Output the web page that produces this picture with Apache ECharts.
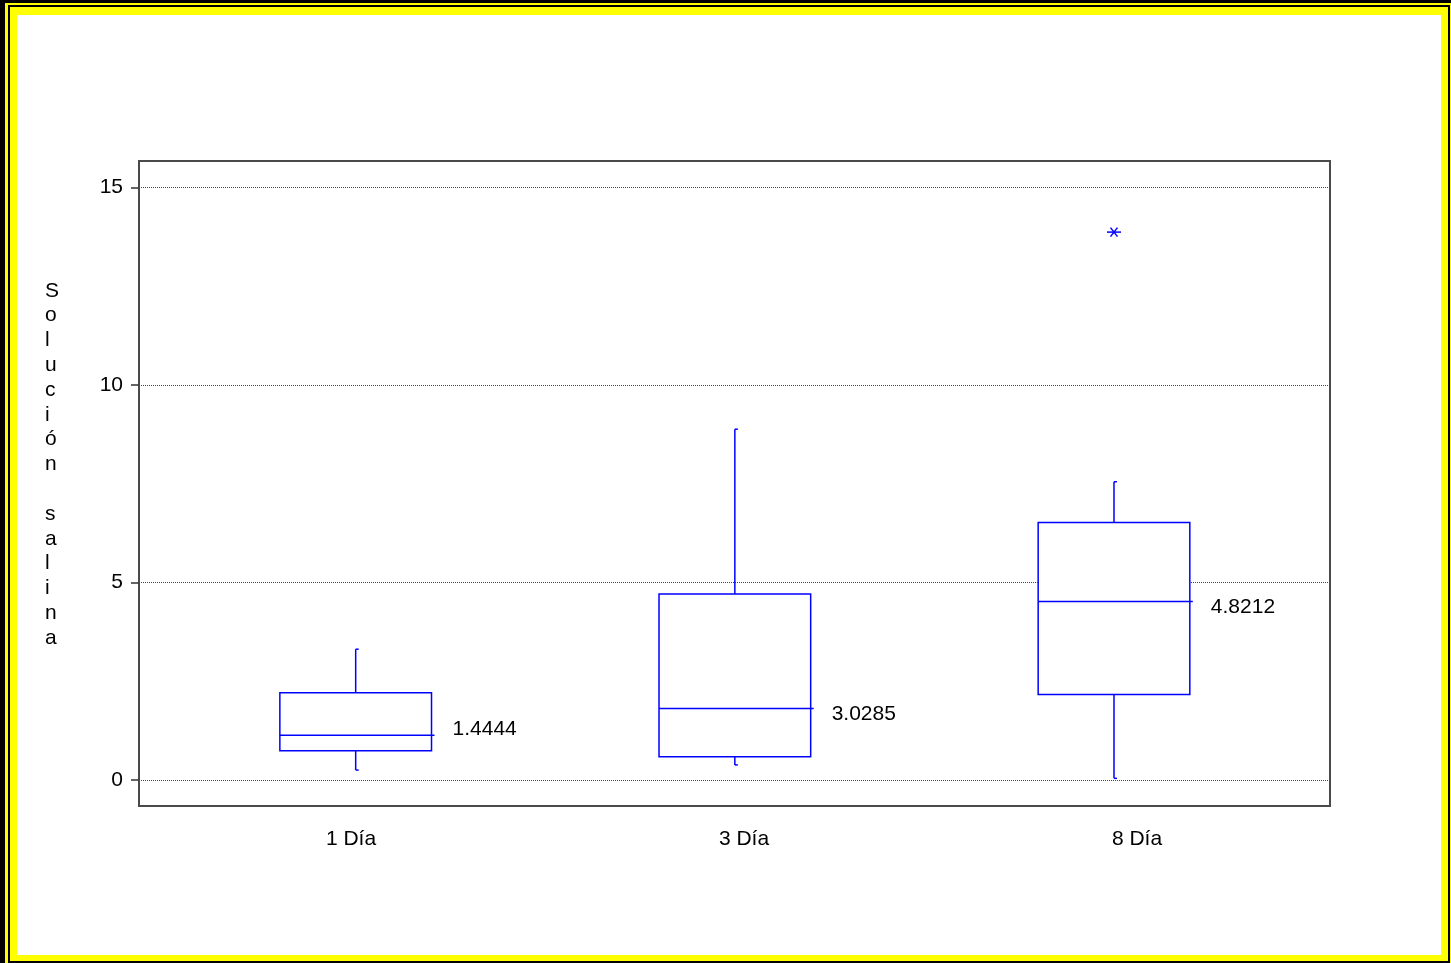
<!DOCTYPE html>
<html>
<head>
<meta charset="utf-8">
<script src="https://cdn.jsdelivr.net/npm/echarts@6/dist/echarts.min.js"></script>
<style>
  html, body { margin: 0; padding: 0; width: 1451px; height: 963px; overflow: hidden; background: #000; }
  #edge  { position: absolute; left: 5px; top: 3px; width: 1446px; height: 960px; background: #ffff00; }
  #rule  { position: absolute; left: 8px; top: 5px; width: 1438px; height: 954px; border: 2px solid #000; background: #ffff00; }
  #sheet { position: absolute; left: 17px; top: 15px; width: 1424px; height: 940px; background: #fff; }
  #chart { position: absolute; left: 0; top: 0; width: 1451px; height: 963px; }
</style>
</head>
<body>
<div id="edge"></div>
<div id="rule"></div>
<div id="sheet"></div>
<div id="chart"></div>
<script>
// Groups and box-plot statistics
const categories  = ['1 Día', '3 Día', '8 Día'];
const positions   = [1, 2, 3];
const whiskerLow  = [0.25, 0.38, 0.04];
const q1          = [0.74, 0.59, 2.16];
const median      = [1.13, 1.81, 4.52];
const q3          = [2.21, 4.71, 6.52];
const whiskerHigh = [3.31, 8.88, 7.55];
const means       = [1.4444, 3.0285, 4.8212];
const outliers    = [[3, 13.87]];
const yTicks      = [0, 5, 10, 15];
const yTitle      = 'Solución salina';

// Drawing settings
const BLUE = '#0000ff';
const BOX_WIDTH = 0.4;            // in x-axis units
const LABEL_NUDGE = [-6, 6, 6];   // vertical nudge (px) of each mean label
const FONT = 'Arial, "Liberation Sans", sans-serif';

const boxData = positions.map((p, i) =>
  [p, whiskerLow[i], q1[i], median[i], q3[i], whiskerHigh[i], means[i]]);

function seg(x1, y1, x2, y2) {
  return { type: 'line', shape: { x1, y1, x2, y2 },
           style: { stroke: BLUE, lineWidth: 1.5, fill: null } };
}

function renderBox(params, api) {
  const x = api.value(0);
  const half = api.size([BOX_WIDTH, 0])[0] / 2;
  const at = v => api.coord([x, v]);
  const lo = at(api.value(1)), b1 = at(api.value(2)), md = at(api.value(3)),
        b3 = at(api.value(4)), hi = at(api.value(5));
  const cx = lo[0];
  return {
    type: 'group',
    children: [
      { type: 'rect',
        shape: { x: cx - half, y: b3[1], width: 2 * half, height: b1[1] - b3[1] },
        style: { fill: '#fff', stroke: BLUE, lineWidth: 1.5 } },
      seg(cx, b3[1], cx, hi[1]),
      seg(cx, hi[1], cx + 3, hi[1]),
      seg(cx, b1[1], cx, lo[1]),
      seg(cx, lo[1], cx + 3, lo[1]),
      seg(cx - half, md[1], cx + half + 3, md[1]),
      { type: 'text',
        x: cx + half + 21,
        y: md[1] + LABEL_NUDGE[params.dataIndex],
        style: { text: api.value(6).toFixed(4), fill: '#000', font: '21px ' + FONT,
                 align: 'left', verticalAlign: 'middle' } }
    ]
  };
}

function renderStar(params, api) {
  const p = api.coord([api.value(0), api.value(1)]);
  return {
    type: 'group',
    children: [
      seg(p[0] - 7, p[1], p[0] + 7, p[1]),
      seg(p[0] - 3.5, p[1] - 4.5, p[0] + 3.5, p[1] + 4.5),
      seg(p[0] + 3.5, p[1] - 4.5, p[0] - 3.5, p[1] + 4.5)
    ]
  };
}

const chart = echarts.init(document.getElementById('chart'), null, { renderer: 'canvas' });
chart.setOption({
  backgroundColor: 'transparent',
  animation: false,
  grid: { left: 139, top: 161, right: 121, bottom: 157, show: true,
          borderColor: '#4a4a4a', borderWidth: 2, backgroundColor: 'transparent' },
  // Vertical axis title, one letter per line
  graphic: [{
    type: 'text', left: 45, top: 464.5 - 15 * 24.8 / 2,
    style: { text: yTitle.split('').join('\n'), fill: '#000', font: '21px ' + FONT,
             lineHeight: 24.8, align: 'center', width: 20 }
  }],
  xAxis: [
    { type: 'value', min: 0.4285, max: 3.5697,
      axisLine: { show: false }, axisTick: { show: false },
      axisLabel: { show: false }, splitLine: { show: false } },
    { type: 'value', min: 0.4606, max: 3.491, position: 'bottom',
      axisLine: { show: false }, axisTick: { show: false }, splitLine: { show: false },
      axisLabel: { customValues: positions, margin: 23, color: '#000',
                   fontSize: 21, fontFamily: FONT,
                   formatter: v => categories[Math.round(v) - 1] } }
  ],
  yAxis: {
    type: 'value', min: -0.66, max: 15.67,
    axisLine: { show: false },
    axisTick: { show: true, customValues: yTicks, length: 8,
                lineStyle: { color: '#333', width: 1.5 } },
    axisLabel: { customValues: yTicks, margin: 16, color: '#000',
                 fontSize: 21, fontFamily: FONT },
    splitLine: { show: false }
  },
  series: [
    { type: 'custom', xAxisIndex: 0, yAxisIndex: 0,
      data: boxData, renderItem: renderBox,
      encode: { x: 0, y: [1, 2, 3, 4, 5] },
      markLine: {
        z: 1, silent: true, symbol: ['none', 'none'], label: { show: false },
        lineStyle: { type: [1, 1], color: '#444', width: 1 },
        data: yTicks.map(v => ({ yAxis: v }))
      } },
    { type: 'custom', xAxisIndex: 0, yAxisIndex: 0,
      data: outliers, renderItem: renderStar, encode: { x: 0, y: 1 } }
  ]
});
</script>
</body>
</html>
